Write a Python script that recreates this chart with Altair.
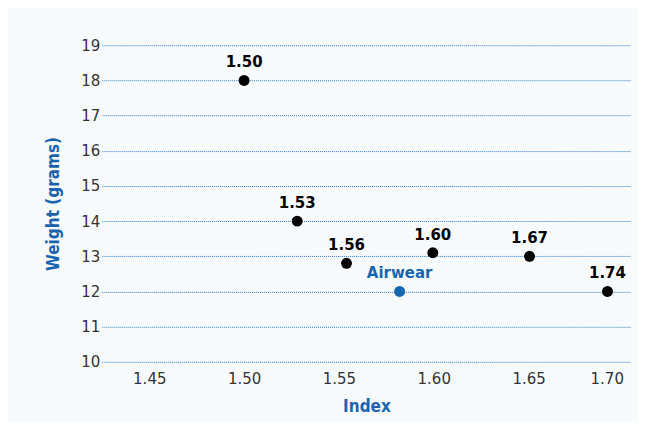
import altair as alt
import pandas as pd

labels = ["1.50", "1.53", "1.56", "Airwear", "1.60", "1.67", "1.74"]
index_pos = [1.500, 1.528, 1.554, 1.582, 1.5995, 1.6505, 1.6916]
weights = [18.0, 14.0, 12.8, 12.0, 13.1, 13.0, 12.0]
groups = ["other", "other", "other", "Airwear", "other", "other", "other"]
x_ticks = [1.45, 1.50, 1.55, 1.60, 1.65, 1.70]
y_ticks = [10, 11, 12, 13, 14, 15, 16, 17, 18, 19]

df = pd.DataFrame({"label": labels, "x": index_pos, "y": weights, "group": groups})

color = alt.Color("group:N", scale=alt.Scale(domain=["other", "Airwear"], range=["#000000", "#1565b0"]), legend=None)

x = alt.X("x:Q", title="Index",
          scale=alt.Scale(domain=[1.425, 1.704], nice=False, zero=False),
          axis=alt.Axis(values=x_ticks, format=".2f", grid=False, domain=False, ticks=False,
                        labelPadding=10, labelFontSize=15, labelColor="#333333",
                        labelFont="DejaVu Sans", titleFont="DejaVu Sans Condensed",
                        labelFlush=10,
                        titleFontSize=17, titleFontWeight="bold", titleColor="#1a63ad",
                        titlePadding=12, labelOverlap=False))
y = alt.Y("y:Q", title="Weight (grams)",
          scale=alt.Scale(domain=[10, 19], nice=False, zero=False),
          axis=alt.Axis(values=y_ticks, tickCount=10, grid=True, gridColor="#2f7cc4",
                        gridDash=[1, 1], gridWidth=1, domain=False, ticks=False,
                        labelPadding=2, labelOverlap=False,
                        labelFontSize=15, labelColor="#333333", labelFont="DejaVu Sans",
                        titleFont="DejaVu Sans Condensed", titleFontSize=17,
                        titleFontWeight="bold", titleColor="#1a63ad", titlePadding=18))

base = alt.Chart(df).encode(x=x, y=y, color=color)
points = base.mark_point(filled=True, size=120, opacity=1)
text = base.mark_text(dy=-18, fontSize=15, fontWeight="bold", font="DejaVu Sans").encode(
    text="label:N")

chart = alt.layer(points, text).properties(
    width=530, height=317,
    autosize=alt.AutoSizeParams(type="none"),
    padding={"left": 94, "top": 37, "right": 6, "bottom": 60},
    background="#f8fbfe",
).configure_view(stroke=None)

chart.save("out.html", embed_options={"renderer": "svg", "actions": False})
